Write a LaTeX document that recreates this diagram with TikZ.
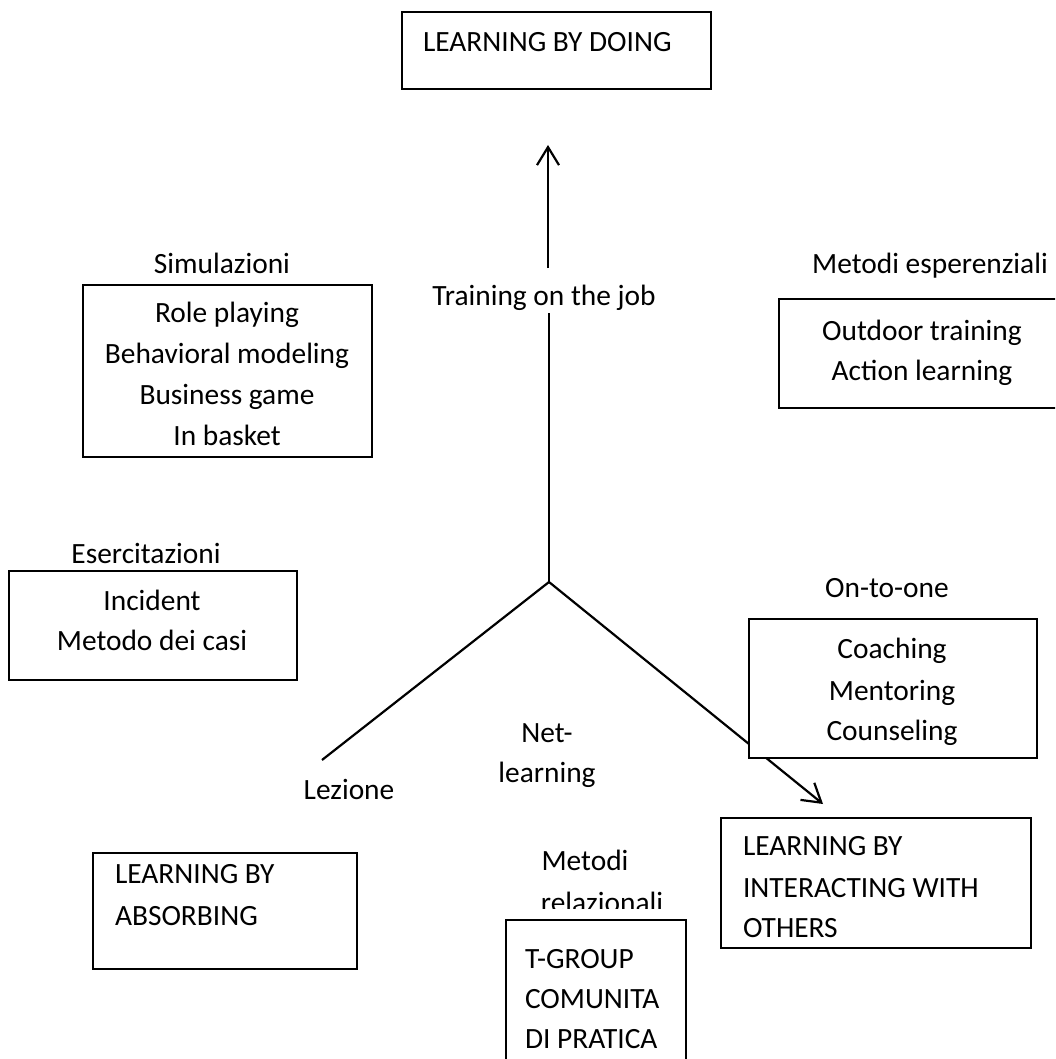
\documentclass[tikz,border=0pt]{standalone}
\usepackage{fontspec}
\setmainfont{Carlito}
\usetikzlibrary{arrows.meta}
\begin{document}
\begin{tikzpicture}[x=0.5pt,y=-0.5pt,
  every node/.style={inner sep=0pt,outer sep=0pt,font=\fontsize{14.7}{20}\selectfont},
  frame/.style={draw,line width=0.7pt,fill=white,inner sep=0pt},
  axis/.style={line width=1.1pt},
  tipped/.style={axis,-{Straight Barb[length=9pt,width=11pt]}}]
\clip (0,0) rectangle (1055,1059);
\fill[white] (0,0) rectangle (1055,1059);

% axes of the map
\coordinate (jn) at (549,582);
\coordinate (upTop) at (548,145);
\coordinate (upGapTop) at (548,268);
\coordinate (upGapBot) at (549,313);
\coordinate (lezEnd) at (322,760);
\coordinate (oneTip) at (823,804);
\draw[axis] (jn) -- (upGapBot);
\draw[tipped] (upGapTop) -- (upTop);
\draw[axis] (jn) -- (lezEnd);
\draw[tipped] (jn) -- (oneTip);

% boxes
\node[frame,minimum width=154.5pt,minimum height=38.5pt] (doing) at (556.5,50.5) {};
\node[frame,minimum width=144.5pt,minimum height=86pt] (sim) at (227.5,371) {};
\node[frame,minimum width=143pt,minimum height=54.5pt] (exp) at (922,353.5) {};
\node[frame,minimum width=144pt,minimum height=54.5pt] (eserc) at (153,625.5) {};
\node[frame,minimum width=144pt,minimum height=69.5pt] (one) at (893,688.5) {};
\node[frame,minimum width=132pt,minimum height=58pt] (absorb) at (225,911) {};
\node[frame,minimum width=155pt,minimum height=65pt] (inter) at (876,883) {};

% top box
\node[anchor=base west] (tDoing) at (423,52) {LEARNING BY DOING};

% simulations
\node[anchor=base] (lSim) at (222,273) {Simulazioni};
\node[anchor=base] (s1) at (227,322) {Role playing};
\node[anchor=base] (s2) at (227,363) {Behavioral modeling};
\node[anchor=base] (s3) at (227,404) {Business game};
\node[anchor=base] (s4) at (227,445) {In basket};

\node[anchor=base] (lTraining) at (544,305) {Training on the job};

% experiential methods
\node[anchor=base] (lExp) at (930,273) {Metodi esperenziali};
\node[anchor=base] (e1) at (922,340) {Outdoor training};
\node[anchor=base] (e2) at (922,380) {Action learning};

% exercises
\node[anchor=base] (lEserc) at (146,563) {Esercitazioni};
\node[anchor=base] (x1) at (152,610) {Incident};
\node[anchor=base] (x2) at (152,650) {Metodo dei casi};

% one-to-one
\node[anchor=base] (lOne) at (887,597) {On-to-one};
\node[anchor=base] (o1) at (892,658) {Coaching};
\node[anchor=base] (o2) at (892,700) {Mentoring};
\node[anchor=base] (o3) at (892,740) {Counseling};

\node[anchor=base] (lNet1) at (547,742) {Net-};
\node[anchor=base] (lNet2) at (547,782) {learning};
\node[anchor=base] (lLez) at (349,799) {Lezione};

% learning by absorbing
\node[anchor=base west] (a1) at (115,883) {LEARNING BY};
\node[anchor=base west] (a2) at (115,925) {ABSORBING};

% relational methods
\node[anchor=base] (lRel1) at (585,870) {Metodi};
\node[anchor=base] (lRel2) at (602,912) {relazionali};
\fill[white] (506,909) rectangle (686,921);
\node[frame,minimum width=90pt,minimum height=80pt] (rel) at (596,1000) {};
\node[anchor=base west] (r1) at (525,968) {T-GROUP};
\node[anchor=base west] (r2) at (525,1008) {COMUNITA};
\node[anchor=base west] (r3) at (525,1048) {DI PRATICA};

% learning by interacting
\node[anchor=base west] (i1) at (743,855) {LEARNING BY};
\node[anchor=base west] (i2) at (743,897) {INTERACTING WITH};
\node[anchor=base west] (i3) at (743,937) {OTHERS};
\end{tikzpicture}
\end{document}
